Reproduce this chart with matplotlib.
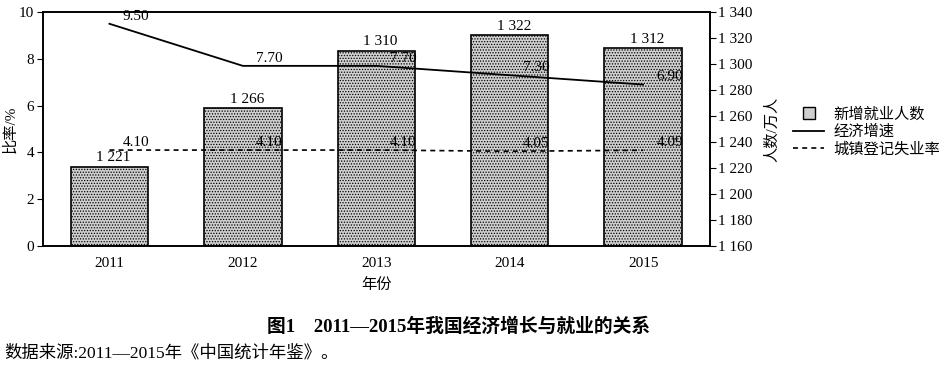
import matplotlib
matplotlib.use("Agg")
import matplotlib.pyplot as plt
from matplotlib.lines import Line2D

plt.rcParams['font.family'] = ['Liberation Serif', 'Noto Sans CJK SC']
plt.rcParams['hatch.color'] = '#444444'
plt.rcParams['hatch.linewidth'] = 0.6

# Data
years = ["2011", "2012", "2013", "2014", "2015"]
new_jobs = [1221, 1266, 1310, 1322, 1312]          # 万人
gdp_growth = [9.50, 7.70, 7.70, 7.30, 6.90]        # %
unemployment = [4.10, 4.10, 4.10, 4.05, 4.09]      # %
jobs_labels = ["1 221", "1 266", "1 310", "1 322", "1 312"]
right_ticks = list(range(1160, 1341, 20))

fig = plt.figure(figsize=(9.49, 3.66), dpi=100)
ax = fig.add_axes([0.045, 0.328, 0.703, 0.639])
ax2 = ax.twinx()
x = range(len(years))

# Bars on the right-hand axis
ax.bar(x, [v - 1160 for v in new_jobs], bottom=1160, width=0.58,
       color="#cfcfcf", edgecolor="black", hatch="......", linewidth=1.2)
for i, v in enumerate(new_jobs):
    ax.text(i + 0.03, v + 2, jobs_labels[i], ha="center", va="bottom", fontsize=11)
ax.set_ylim(1160, 1340)
ax.set_xlim(-0.5, 4.5)
ax.yaxis.tick_right()
ax.yaxis.set_label_position("right")
ax.set_yticks(right_ticks)
ax.set_yticklabels([f"{t // 1000} {t % 1000:03d}" for t in right_ticks], fontsize=11)
ax.set_ylabel("人数/万人", fontsize=11, labelpad=9)
ax.set_xticks(list(x))
ax.set_xticklabels(years, fontsize=11)
ax.tick_params(axis="x", length=0, pad=8)
ax.tick_params(axis="y", length=4, pad=2)
ax.set_xlabel("年份", fontsize=11, labelpad=6)

# Lines on the left-hand axis
ax2.yaxis.tick_left()
ax2.yaxis.set_label_position("left")
ax2.plot(x, gdp_growth, color="black", lw=1.3)
ax2.plot(x, unemployment, color="black", lw=1.2, ls=(0, (3, 2.5)))
ax2.set_ylim(0, 10)
ax2.set_xlim(-0.5, 4.5)
ax2.set_yticks([0, 2, 4, 6, 8, 10])
ax2.tick_params(axis="y", labelsize=11, length=4, pad=2)
ax2.set_ylabel("比率/%", fontsize=11, labelpad=1)
for i, v in enumerate(gdp_growth):
    ax2.text(i + 0.2, v + 0.05, f"{v:.2f}", ha="center", va="bottom", fontsize=11)
for i, v in enumerate(unemployment):
    ax2.text(i + 0.2, v + 0.05, f"{v:.2f}", ha="center", va="bottom", fontsize=11)

for a in (ax, ax2):
    for s in a.spines.values():
        s.set_linewidth(1.2)

handles = [Line2D([], [], ls="none", marker="s", markersize=9,
                  markerfacecolor="#cfcfcf", markeredgecolor="black", markeredgewidth=1),
           Line2D([], [], color="black", lw=1.3),
           Line2D([], [], color="black", lw=1.2, ls=(0, (3, 2.5)))]
fig.legend(handles, ["新增就业人数", "经济增速", "城镇登记失业率"],
           loc="center left", bbox_to_anchor=(0.836, 0.64), frameon=False,
           fontsize=11, handlelength=2.0, labelspacing=0.2,
           borderpad=0, borderaxespad=0, handletextpad=0.6)

fig.text(0.483, 0.108, "图1　2011—2015年我国经济增长与就业的关系",
         ha="center", va="center", fontsize=13.5, fontweight="bold")
fig.text(0.005, 0.035, "数据来源:2011—2015年《中国统计年鉴》。",
         ha="left", va="center", fontsize=12.5)

fig.savefig("out.png", dpi=100)
